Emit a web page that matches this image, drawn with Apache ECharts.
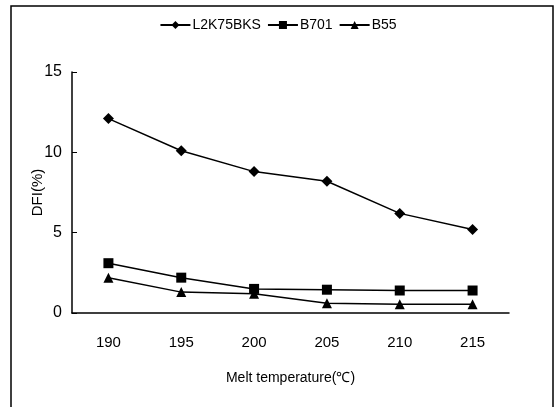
<!DOCTYPE html>
<html><head><meta charset="utf-8">
<script src="https://cdn.jsdelivr.net/npm/echarts@6/dist/echarts.min.js"></script>
<style>html,body{margin:0;padding:0;background:#fff}#c{width:556px;height:407px}</style>
</head><body><div id="c"></div>
<script>
const categories = ['190','195','200','205','210','215'];
const seriesNames = ['L2K75BKS','B701','B55'];
const L2K75BKS = [12.1, 10.1, 8.8, 8.2, 6.2, 5.2];
const B701 = [3.1, 2.2, 1.5, 1.45, 1.4, 1.4];
const B55 = [2.2, 1.3, 1.2, 0.6, 0.55, 0.55];
const yTicks = [0, 5, 10, 15];

const font = "'Liberation Sans Narrow','Arial Narrow','Liberation Sans',sans-serif";
const chart = echarts.init(document.getElementById('c'), null, {renderer:'canvas'});
const symbols = ['diamond','rect','triangle'];
const sizes = [11, 10, 10];
const dataArr = [L2K75BKS, B701, B55];
chart.setOption({
  animation:false,
  backgroundColor:'#fff',
  graphic:[{type:'rect', shape:{x:11,y:6,width:542,height:420}, style:{fill:'none',stroke:'#000',lineWidth:1.5}, silent:true}],
  legend:{
    top:13, left:'center', itemGap:6, itemWidth:30, itemHeight:10,
    textStyle:{fontFamily:font, fontSize:14, color:'#000', padding:[0,0,0,-3]},
    data: seriesNames
  },
  grid:{left:72, right:47, top:72, bottom:94},
  xAxis:{
    type:'category', data:categories, boundaryGap:true,
    axisLine:{lineStyle:{color:'#000', width:1.5}},
    axisTick:{inside:true, length:6, lineStyle:{color:'#000'}},
    axisLabel:{fontFamily:font, fontSize:15, color:'#000', margin:22},
    name:'Melt temperature(℃)', nameLocation:'middle', nameGap:58, nameMoveOverlap:false,
    nameTextStyle:{fontFamily:font, fontSize:14, color:'#000'}
  },
  yAxis:{
    type:'value', min:0, max:15, interval:5,
    axisLine:{show:true, lineStyle:{color:'#000', width:1.5}},
    axisTick:{show:true, inside:true, length:5, lineStyle:{color:'#000'}},
    splitLine:{show:false},
    axisLabel:{fontFamily:"'Liberation Sans',sans-serif", fontSize:16, color:'#000', margin:10,
      formatter:v=>yTicks.includes(v)?String(v):''},
    name:'DFI(%)', nameLocation:'middle', nameGap:34, nameRotate:90, nameMoveOverlap:false,
    nameTextStyle:{fontFamily:"'Liberation Sans',sans-serif", fontSize:15, color:'#000', verticalAlign:'middle', padding:0}
  },
  series: seriesNames.map((n,i)=>({
    name:n, type:'line', data:dataArr[i], symbol:symbols[i], symbolSize:sizes[i],
    itemStyle:{color:'#000'}, lineStyle:{color:'#000', width:1.5}
  }))
});
</script></body></html>
